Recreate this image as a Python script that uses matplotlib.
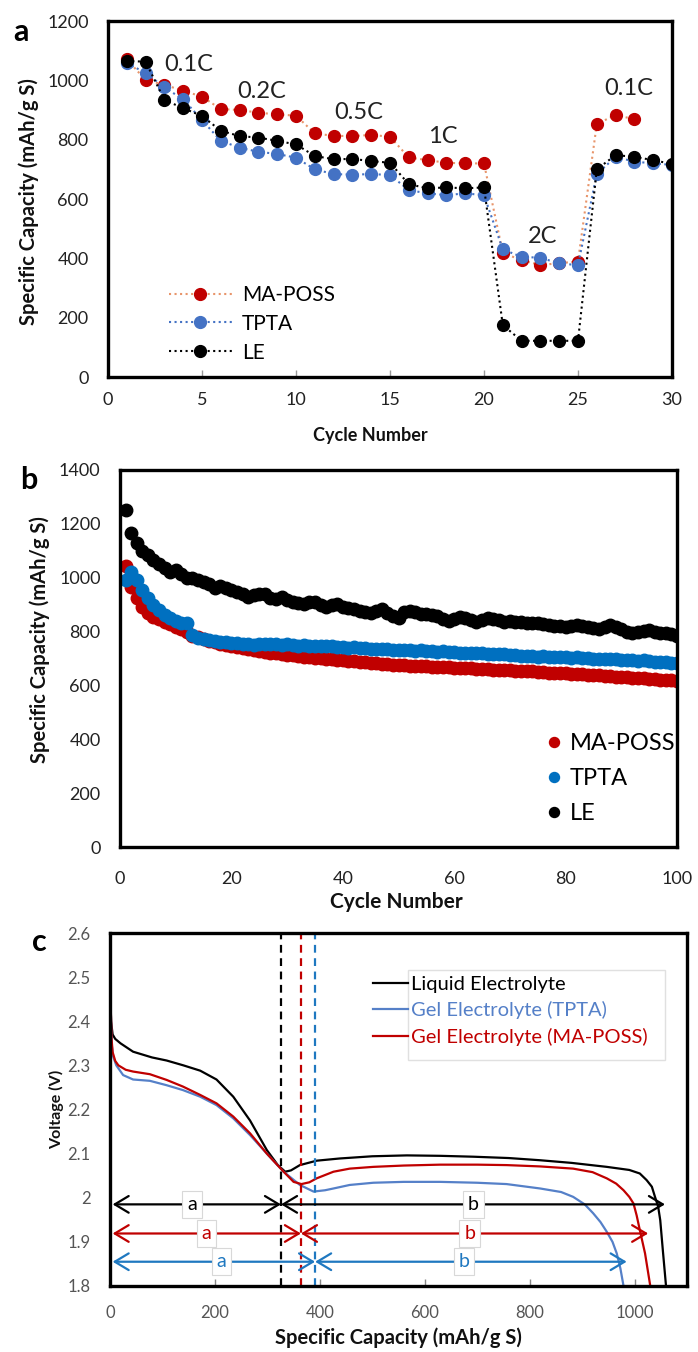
import numpy as np
import matplotlib.pyplot as plt
import matplotlib.patches as mpatches

plt.rcParams['font.family'] = ['Lato', 'DejaVu Sans']

# ---- painel a: rate capability ----
cyc_a = np.arange(1, 31)
cyc_ma = np.arange(1, 29)
a_maposs = [1071, 1001, 985, 965, 945, 903, 900, 891, 885, 881,
            821, 813, 812, 816, 810, 740, 731, 722, 720, 720,
            418, 394, 377, 384, 389, 853, 883, 869]
a_tpta = [1057, 1026, 976, 936, 866, 796, 773, 759, 752, 739,
          700, 684, 682, 684, 681, 630, 619, 613, 619, 613,
          430, 405, 402, 383, 377, 684, 742, 726, 720, 715]
a_le = [1065, 1063, 934, 906, 880, 830, 812, 807, 796, 784,
        745, 734, 735, 728, 722, 650, 636, 639, 636, 639,
        175, 122, 122, 122, 122, 700, 748, 742, 731, 718]
rate_labels = ['0.1C', '0.2C', '0.5C', '1C', '2C', '0.1C']
rate_x = [4.3, 8.2, 13.35, 17.8, 23.1, 27.7]
rate_y = [1055, 964, 890, 809, 475, 974]

# ---- painel b: ciclagem 100 ciclos ----
cyc_b = np.arange(1, 101)
b_le = [1250, 1165, 1130, 1100, 1085, 1065, 1050, 1035, 1020, 1030,
        1015, 1000, 1000, 990, 985, 978, 962, 968, 960, 955,
        948, 940, 928, 935, 940, 938, 925, 922, 930, 918,
        910, 905, 902, 910, 908, 898, 892, 900, 902, 893,
        888, 885, 878, 872, 868, 878, 885, 868, 858, 850,
        872, 878, 872, 866, 864, 862, 858, 848, 838, 848,
        855, 850, 842, 836, 842, 852, 848, 842, 836, 838,
        836, 834, 832, 830, 832, 828, 824, 820, 822, 818,
        820, 824, 822, 818, 814, 811, 816, 824, 818, 808,
        798, 794, 798, 802, 805, 800, 795, 793, 790, 782]
b_tpta = [990, 1020, 990, 955, 925, 898, 880, 862, 850, 838,
          830, 832, 788, 776, 772, 768, 765, 762, 760, 757,
          756, 754, 752, 751, 752, 755, 752, 754, 750, 753,
          750, 748, 750, 747, 748, 746, 745, 747, 742, 744,
          740, 741, 740, 738, 736, 737, 735, 734, 733, 731,
          732, 730, 729, 730, 727, 728, 725, 726, 723, 724,
          721, 722, 720, 719, 720, 717, 718, 715, 716, 713,
          714, 711, 710, 708, 707, 709, 706, 707, 705, 704,
          703, 704, 701, 702, 700, 699, 700, 698, 697, 695,
          696, 694, 692, 693, 690, 688, 687, 686, 684, 682]
b_maposs = [1045, 965, 925, 890, 868, 855, 845, 836, 828, 818,
            808, 798, 785, 778, 772, 766, 760, 755, 750, 746,
            742, 738, 735, 730, 726, 724, 721, 719, 716, 714,
            712, 710, 707, 705, 703, 701, 699, 697, 695, 693,
            691, 690, 688, 686, 684, 682, 681, 679, 677, 675,
            675, 674, 673, 672, 671, 670, 669, 668, 667, 666,
            666, 664, 663, 662, 661, 660, 659, 658, 657, 656,
            655, 654, 653, 652, 650, 650, 648, 647, 646, 645,
            644, 642, 641, 640, 638, 637, 636, 634, 633, 632,
            630, 629, 628, 626, 625, 624, 622, 621, 620, 618]

# ---- painel c: curvas de descarga ----
cap_le = [0, 0, 2, 5, 10, 20, 44, 80, 108, 140, 172, 203, 235, 267, 299, 320,
          334, 345, 362, 394, 438, 500, 566, 630, 693, 760, 820, 880, 947, 990,
          1010, 1023, 1033, 1039, 1045, 1049, 1054, 1060]
v_le = [2.6, 2.5, 2.40, 2.37, 2.36, 2.35, 2.331, 2.318, 2.311, 2.300, 2.288,
        2.268, 2.229, 2.175, 2.108, 2.074, 2.059, 2.062, 2.074, 2.084, 2.089,
        2.094, 2.096, 2.095, 2.093, 2.090, 2.085, 2.079, 2.07, 2.063, 2.055,
        2.04, 2.025, 2.002, 1.98, 1.949, 1.88, 1.8]
cap_ma = [0, 1, 3, 5, 10, 16, 30, 44, 76, 108, 139, 172, 203, 235, 267, 299,
          331, 350, 365, 380, 394, 426, 457, 502, 560, 629, 700, 756, 820, 883,
          920, 947, 965, 979, 990, 998, 1004, 1010, 1020, 1030]
v_ma = [2.6, 2.45, 2.36, 2.33, 2.31, 2.30, 2.29, 2.286, 2.28, 2.267, 2.252,
        2.233, 2.214, 2.184, 2.146, 2.1, 2.059, 2.036, 2.031, 2.035, 2.044,
        2.059, 2.066, 2.070, 2.073, 2.075, 2.075, 2.074, 2.071, 2.066, 2.058,
        2.044, 2.032, 2.017, 2.002, 1.987, 1.96, 1.927, 1.874, 1.8]
cap_tp = [0, 1, 3, 6, 12, 25, 44, 76, 108, 139, 172, 203, 235, 267, 299, 331,
          362, 388, 410, 426, 457, 502, 560, 629, 700, 756, 820, 860, 883, 905,
          921, 935, 947, 958, 966, 973, 979]
v_tp = [2.6, 2.45, 2.35, 2.32, 2.30, 2.278, 2.268, 2.265, 2.255, 2.244, 2.229,
        2.21, 2.18, 2.142, 2.1, 2.059, 2.029, 2.014, 2.017, 2.021, 2.029, 2.034,
        2.036, 2.036, 2.034, 2.031, 2.021, 2.013, 2.002, 1.985, 1.965, 1.945,
        1.923, 1.9, 1.874, 1.84, 1.8]
split_cap = [326, 364, 391]
end_cap = [1058, 1026, 985]
arrow_v = [1.985, 1.919, 1.855]
a_lab_x = [156, 184, 213]
b_lab_x = [693, 686, 675]

RED = '#C00000'
BLUE_A = '#4472C4'
BLUE_B = '#0070C0'
BLUE_C = '#5580C8'
BLUE_D = '#1F78C0'

fig = plt.figure(figsize=(6.98, 13.52), dpi=100)

# ================= a =================
ax1 = fig.add_axes([108/698, 1-377/1352, 564/698, 356/1352])
ax1.plot(cyc_ma, a_maposs, ':', color='#E8956B', lw=1.5, marker='o', ms=8.5,
         mfc=RED, mec=RED, label='MA-POSS')
ax1.plot(cyc_a, a_tpta, ':', color=BLUE_A, lw=1.5, marker='o', ms=8.5,
         mfc=BLUE_A, mec=BLUE_A, label='TPTA')
ax1.plot(cyc_a, a_le, ':', color='black', lw=1.5, marker='o', ms=8.5,
         mfc='black', mec='black', label='LE')
for t, x, y in zip(rate_labels, rate_x, rate_y):
    ax1.text(x, y, t, fontsize=17, ha='center', va='center', color='#222222')
ax1.set_xlim(0, 30)
ax1.set_ylim(0, 1200)
ax1.set_xticks(range(0, 31, 5))
ax1.set_yticks(range(0, 1201, 200))
ax1.set_xlabel('Cycle Number', fontsize=13, fontweight='bold')
ax1.xaxis.set_label_coords(0.465, -0.14)
ax1.set_ylabel('Specific Capacity (mAh/g S)', fontsize=14.5, fontweight='bold')
ax1.yaxis.set_label_coords(-0.122, 0.494)
ax1.legend(loc='lower left', bbox_to_anchor=(0.075, -0.012), frameon=False,
           fontsize=15, handlelength=3, handletextpad=0.5, labelspacing=0.42)
fig.text(13/698, 1-18/1352, 'a', fontsize=22, fontweight='bold', va='top')

# ================= b =================
ax2 = fig.add_axes([120/698, 1-847/1352, 557/698, 377/1352])
ax2.plot(cyc_b, b_maposs, 'o', ms=9, color=RED, label='MA-POSS')
ax2.plot(cyc_b, b_tpta, 'o', ms=9, color=BLUE_B, label='TPTA')
ax2.plot(cyc_b, b_le, 'o', ms=9, color='black', label='LE')
ax2.set_xlim(0, 100)
ax2.set_ylim(0, 1400)
ax2.set_xticks(range(0, 101, 20))
ax2.set_yticks(range(0, 1401, 200))
ax2.set_xlabel('Cycle Number', fontsize=15, fontweight='bold')
ax2.xaxis.set_label_coords(0.497, -0.12)
ax2.set_ylabel('Specific Capacity (mAh/g S)', fontsize=14.5, fontweight='bold')
ax2.yaxis.set_label_coords(-0.125, 0.55)
ax2.legend(loc='lower right', bbox_to_anchor=(1.035, 0.005), frameon=False,
           fontsize=17, handlelength=0.6, handletextpad=0.35, labelspacing=0.58,
           markerscale=0.8)
fig.text(20/698, 1-466/1352, 'b', fontsize=22, fontweight='bold', va='top')

# ================= c =================
ax3 = fig.add_axes([110/698, 1-1286/1352, 577/698, 353/1352])
ax3.plot(cap_le, v_le, color='black', lw=1.6, label='Liquid Electrolyte')
ax3.plot(cap_tp, v_tp, color=BLUE_C, lw=1.6, label='Gel Electrolyte (TPTA)')
ax3.plot(cap_ma, v_ma, color=RED, lw=1.6, label='Gel Electrolyte (MA-POSS)')
arrow_cols = ['black', RED, BLUE_D]
for s, e, v, xa, xb, c in zip(split_cap, end_cap, arrow_v, a_lab_x, b_lab_x,
                              arrow_cols):
    ax3.axvline(s, color=c, ls=(0, (3.5, 2.5)), lw=1.6)
    ap = dict(arrowstyle='<->,head_length=0.5,head_width=0.3', color=c, lw=1.6,
              shrinkA=0, shrinkB=0, mutation_scale=20)
    ax3.annotate('', xy=(s, v), xytext=(5, v), arrowprops=ap)
    ax3.annotate('', xy=(e, v), xytext=(s, v), arrowprops=ap)
    bb = dict(boxstyle='square,pad=0.25', fc='white', ec='#D8D8D8', lw=0.8)
    ax3.text(xa, v, 'a', fontsize=14, color=c, ha='center', va='center', bbox=bb)
    ax3.text(xb, v, 'b', fontsize=14, color=c, ha='center', va='center', bbox=bb)
ax3.set_xlim(0, 1100)
ax3.set_ylim(1.8, 2.6)
ax3.set_xticks(range(0, 1001, 200))
ax3.set_yticks(np.arange(1.8, 2.61, 0.1))
ax3.set_yticklabels(['1.8', '1.9', '2', '2.1', '2.2', '2.3', '2.4', '2.5', '2.6'])
ax3.set_xlabel('Specific Capacity (mAh/g S)', fontsize=14.5, fontweight='bold')
ax3.xaxis.set_label_coords(0.5, -0.118)
ax3.set_ylabel('Voltage (V)', fontsize=11.5, fontweight='bold')
ax3.yaxis.set_label_coords(-0.08, 0.5)
ax3.legend(loc='upper left', bbox_to_anchor=(0.425, 0.93), frameon=False,
           fontsize=14.5, handlelength=1.7, handletextpad=0.15,
           labelspacing=0.42, labelcolor='linecolor')
ax3.add_patch(mpatches.Rectangle((0.516, 0.640), 0.446, 0.255,
                                 transform=ax3.transAxes, fill=False,
                                 ec='#E0E0E0', lw=1, zorder=1))
fig.text(32/698, 1-928/1352, 'c', fontsize=22, fontweight='bold', va='top')

for ax in (ax1, ax2, ax3):
    for sp in ax.spines.values():
        sp.set_linewidth(2.4)
    ax.tick_params(axis='y', length=0, pad=14, labelsize=13, colors='#222222')
    ax.tick_params(axis='x', direction='in', length=5, width=1, color='#888888',
                   labelsize=13, labelcolor='#222222')
    ax.yaxis.label.set_color('#111111')
    ax.xaxis.label.set_color('#111111')
ax1.tick_params(axis='x', pad=11, color='#999999')
ax2.tick_params(axis='x', length=0, pad=17)
ax3.tick_params(axis='x', pad=14)
ax3.tick_params(axis='both', labelsize=12, labelcolor='#555555')

fig.savefig('out.png', dpi=100)
